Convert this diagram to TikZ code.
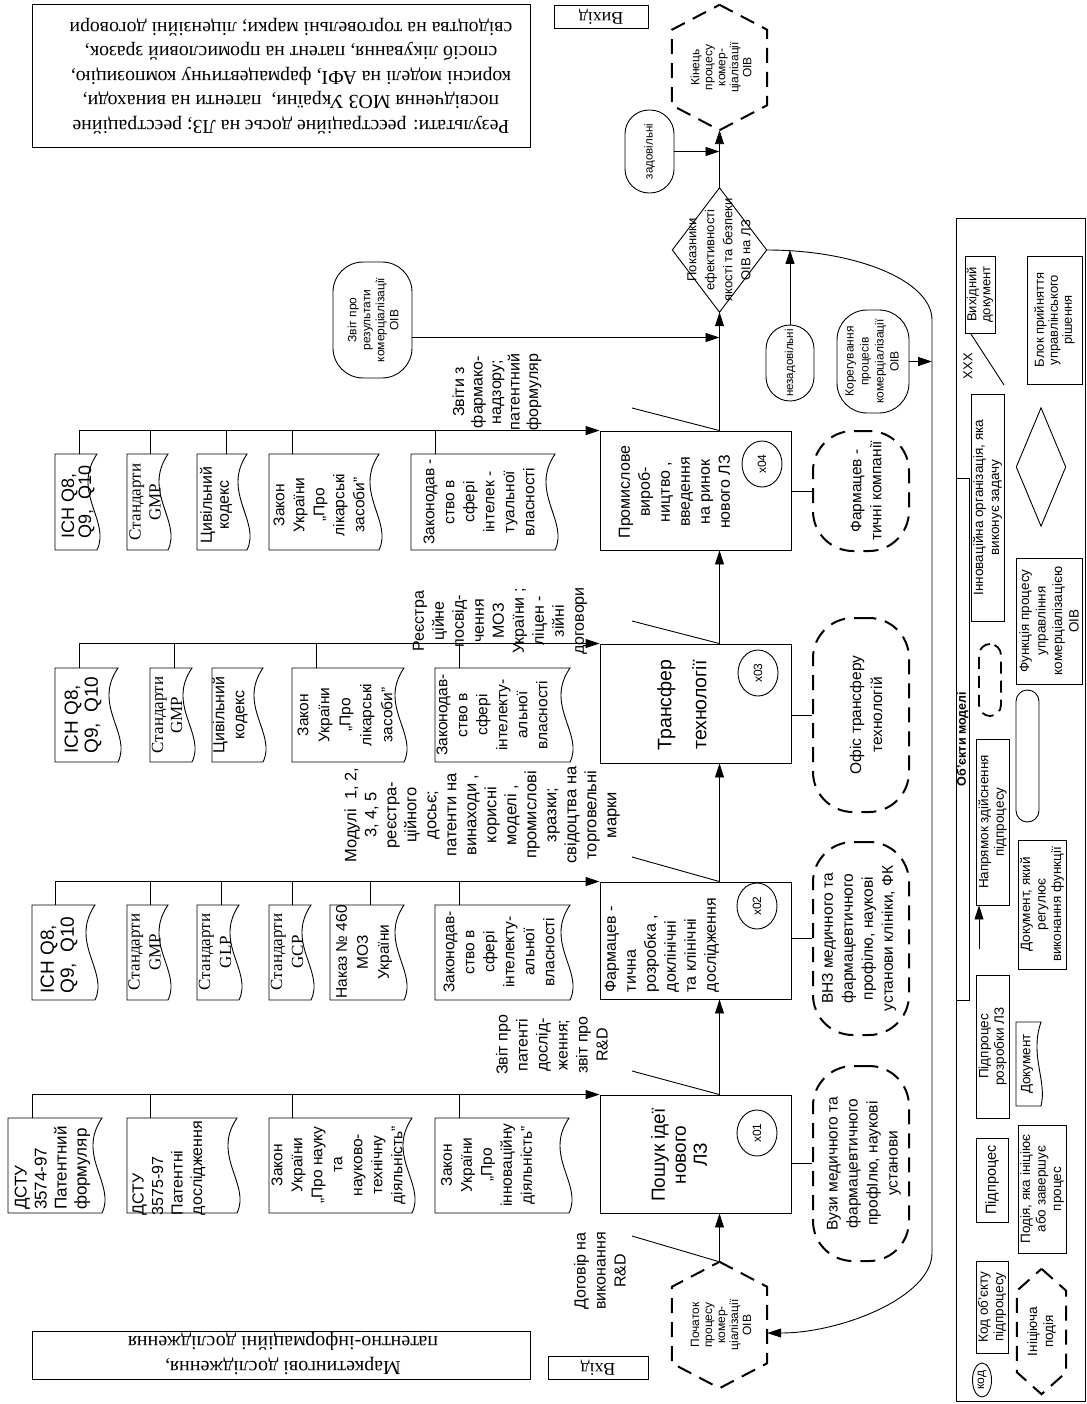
\documentclass[tikz,border=0pt]{standalone}
\usepackage{fontspec}
\setmainfont{Liberation Sans}
\newfontfamily\srf{Liberation Serif}
\usetikzlibrary{arrows.meta,shapes.geometric,calc}
\newcommand\fs[2]{\fontsize{#1}{#2}\selectfont}
% box node from corners: [opts]{x1}{y1}{x2}{y2}{name}
\newcommand\bx[6][]{\node[draw,line width=0.9pt,inner sep=0pt,minimum width={(#4-#2)*1pt},minimum height={(#5-#3)*1pt},#1] (#6) at ({(#2+#4)/2},{(#3+#5)/2}) {};}
% document shape: [amp]{x1}{y1}{x2}{y2}{name}{drop x}
\newcommand\doc[7][1]{%
  \draw[line width=0.9pt] (#2,#3) -- (#4,#3) .. controls ({#4-26*#1},{#3+0.4*(#5-#3)}) and ({#4+14*#1},{#3+0.7*(#5-#3)}) .. (#4,#5) -- (#2,#5) -- cycle;
  \coordinate (#6) at (#7,#3);}
\begin{document}
\begin{tikzpicture}[x=1pt,y=-1pt,
  ln/.style={line width=0.9pt},
  arr/.style={line width=0.9pt,-{Triangle[length=14pt,width=9pt]}},
  dsh/.style={line width=2pt,dash pattern=on 15pt off 9pt},
  rt/.style={rotate=90,align=center,inner sep=0pt},
  rtl/.style={rotate=90,align=left,inner sep=0pt},
  upd/.style={rotate=180,align=center,inner sep=0pt},
  lg/.style={rotate=90,align=center,inner sep=0pt,font=\fs{13.5}{15.5}}]
\fill[white] (0,0) rectangle (1086,1404);
\useasboundingbox (0,0) rectangle (1086,1404);

% ---------- top / bottom boxes ----------
\bx{32}{4}{530}{147}{res}
\node[upd,font=\srf\fs{19.8}{24.5}] (rest) at (291,76) {Результати: реєстраційне досьє на ЛЗ; реєстраційне\\посвідчення МОЗ України,\ \ патенти на винаходи,\\корисні моделі на АФІ, фармацевтичну композицію,\\спосіб лікування, патент на промисловий зразок,\\свідоцтва на торговельні марки; ліцензійні договори};
\bx{554}{5}{648}{28}{vyh}
\node[upd,font=\srf\fs{18}{20}] at (vyh) {Вихід};
\bx{32}{1331}{530}{1379}{mark}
\node[upd,font=\srf\fs{20}{25}] (markt) at (283,1353) {Маркетингові дослідження,\\патентно-інформаційні дослідження};
\bx{548}{1356}{648}{1379}{vh}
\node[upd,font=\srf\fs{18}{20}] at (vh) {Вхід};

% ---------- blocks ----------
\bx{600}{1095}{791}{1213}{b1}
\bx{600}{882}{791}{999}{b2}
\bx{600}{644}{791}{763}{b3}
\bx{600}{431}{791}{550}{b4}
\node[rt,font=\fs{19}{21}] (b1t) at (679,1155) {Пошук ідеї\\нового\\ЛЗ};
\node[rtl,font=\fs{16}{20}] (b2t) at (662,945) {Фармацев -\\тична\\розробка ,\\доклінічні\\та клінічні\\дослідження};
\node[rt,font=\fs{19.5}{35}] (b3t) at (682,705) {Трансфер\\технології};
\node[rt,font=\fs{16}{20}] (b4t) at (674.5,492) {Промислове\\вироб-\\ництво ,\\введення\\на ринок\\нового ЛЗ};
\node[draw,ln,ellipse,rt,minimum width=46pt,minimum height=40pt,font=\fs{12}{14}] (c1) at (757,1133) {x01};
\node[draw,ln,ellipse,rt,minimum width=46pt,minimum height=40pt,font=\fs{12}{14}] (c2) at (757,906) {x02};
\node[draw,ln,ellipse,rt,minimum width=46pt,minimum height=40pt,font=\fs{12}{14}] (c3) at (758,673) {x03};
\node[draw,ln,ellipse,rt,minimum width=46pt,minimum height=40pt,font=\fs{12}{14}] (c4) at (762,464) {x04};

% ---------- events ----------
\node[minimum width=95pt,minimum height=126pt,inner sep=0pt] (start) at (719.5,1325) {};
\draw[dsh] (start.north) -- ([yshift=-25pt]start.north east) -- ([yshift=25pt]start.south east) -- (start.south) -- ([yshift=25pt]start.south west) -- ([yshift=-25pt]start.north west) -- cycle;
\node[rt,font=\fs{12}{13}] (startt) at (721,1325) {Початок\\процесу\\комер-\\ціалізації\\ОІВ};
\node[minimum width=95pt,minimum height=125pt,inner sep=0pt] (end) at (719.5,67.5) {};
\draw[dsh] (end.north) -- ([yshift=-25pt]end.north east) -- ([yshift=25pt]end.south east) -- (end.south) -- ([yshift=25pt]end.south west) -- ([yshift=-25pt]end.north west) -- cycle;
\node[rt,font=\fs{12}{13}] (endt) at (721,67.5) {Кінець\\процесу\\комер-\\ціалізації\\ОІВ};

\node[minimum width=94pt,minimum height=124pt,inner sep=0pt] (dia) at (719.5,250) {};
\draw[ln] (dia.north) -- (dia.east) -- (dia.south) -- (dia.west) -- cycle;
\node[rt,font=\fs{13}{18}] (diat) at (719,250) {Показники\\ефективності\\якості та безпеки\\ОІВ на ЛЗ};

\bx[rounded corners=24pt]{625}{110}{674}{193}{zad}
\node[rt,font=\fs{11.5}{13}] at (zad) {задовільні};
\bx[rounded corners=24pt]{766}{325}{814}{401}{nez}
\node[rt,font=\fs{11.5}{13}] at (nez) {незадовільні};
\bx[rounded corners=30pt]{333}{262}{412}{378}{rep}
\node[rt,font=\fs{12}{14}] at (373,320) {Звіт про\\результати\\комерціалізації\\ОІВ};
\bx[rounded corners=30pt]{837}{310}{909}{413}{kor}
\node[rt,font=\fs{12}{15}] at (872,361.5) {Корегування\\процесів\\комерціалізації\\ОІВ};

% ---------- organisations ----------
\bx[dsh,rounded corners=40pt]{813}{1066}{909}{1261}{o1}
\bx[dsh,rounded corners=40pt]{813}{842}{909}{1035}{o2}
\bx[dsh,rounded corners=40pt]{813}{618}{909}{812}{o3}
\bx[dsh,rounded corners=40pt]{813}{431}{909}{551}{o4}
\node[rt,font=\fs{15.5}{20}] at (864,1163.5) {Вузи медичного та\\фармацевтичного\\профІлю, наукові\\установи};
\node[rt,font=\fs{15.5}{20}] at (859,938.5) {ВНЗ медичного та\\фармацевтичного\\профілю, наукові\\установи клініки, ФК};
\node[rt,font=\fs{15.5}{21}] at (866,715) {Офіс трансферу\\технологій};
\node[rt,font=\fs{15.5}{20}] at (866,491) {Фармацев -\\тичні компанії};
\draw[ln] (o1.west) -- (o1.west -| b1.east);
\draw[ln] (o2.west) -- (o2.west -| b2.east);
\draw[ln] (o3.west) -- (o3.west -| b3.east);
\draw[ln] (o4.west) -- (o4.west -| b4.east);

% ---------- main flow ----------
\draw[arr] (start.north) -- (start.north |- b1.south);
\draw[arr] (start.north |- b1.north) -- (start.north |- b2.south);
\draw[arr] (start.north |- b2.north) -- (start.north |- b3.south);
\draw[arr] (start.north |- b3.north) -- (start.north |- b4.south);
\draw[arr] (start.north |- b4.north) -- (dia.south);
\draw[arr] (dia.north) -- (end.south);
\draw[arr] (zad.east) -- (zad.east -| dia.north);
\draw[arr] ([yshift=-17.5pt]rep.east) -- ([yshift=-17.5pt]rep.east -| dia.south);
\coordinate (lp1) at (932,320);
\coordinate (lp2) at (932,1253);
\draw[arr] (dia.east) .. controls (857,250) and (932,281) .. (lp1) -- (lp2) .. controls (932,1297) and (841,1333) .. ([yshift=-8pt]start.east);
\draw[arr] (nez.north) -- (nez.north |- dia.east);
\draw[arr] (kor.east) -- (kor.east -| lp1);

% ---------- output labels ----------
\coordinate (l0e) at (632,1236);
\coordinate (l1e) at (632,1071);
\coordinate (l2e) at (632,857);
\coordinate (l3e) at (632,621);
\coordinate (l4e) at (632,408);
\draw[ln] (start.north) -- (l0e);
\draw[ln] (start.north |- b1.north) -- (l1e);
\draw[ln] (start.north |- b2.north) -- (l2e);
\draw[ln] (start.north |- b3.north) -- (l3e);
\draw[ln] (start.north |- b4.north) -- (l4e);
\node[rt,font=\fs{16}{20}] (l0) at (600,1271) {Договір на\\виконання\\R\&D};
\node[rt,font=\fs{16}{20}] (l1) at (552,1045) {Звіт про\\патенті\\дослід-\\ження;\\звіт про\\R\&D};
\node[rt,font=\fs{16.5}{20}] (l2) at (482,815) {Модулі\ \ 1, 2,\\3, 4, 5\\реєстра-\\ційного\\досьє;\\патенти на\\винаходи ,\\корисні\\моделі ,\\промислові\\зразки;\\свідоцтва на\\торговельні\\марки};
\node[rt,font=\fs{16}{20}] (l3) at (500,621) {Реєстра\\ційне\\посвід-\\чення\\МОЗ\\України ;\\ліцен -\\зійні\\договори};
\node[rt,font=\fs{16}{18.5}] (l4) at (497,392) {Звіти з\\фармако-\\надзору;\\патентний\\формуляр};

% ---------- documents group 1 ----------
\doc{8}{1118}{102}{1213}{d1a}{32}
\doc{127}{1118}{237}{1213}{d1b}{150}
\doc{269}{1118}{412}{1213}{d1c}{292}
\doc{435}{1118}{569}{1213}{d1d}{459}
\node[rtl,font=\fs{17}{20}] at (52.5,1168) {ДСТУ\\3574-97\\Патентний\\формуляр};
\node[rtl,font=\fs{16}{19.5}] at (169,1168) {ДСТУ\\3575-97\\Патентні\\дослідження};
\node[rt,font=\fs{15.5}{20}] at (338.5,1165) {Закон\\України\\„Про науку\\та\\науково-\\технічну\\діяльність”};
\node[rt,font=\fs{15.5}{20}] at (488,1165) {Закон\\України\\„Про\\інноваційну\\діяльність”};
\draw[arr] (d1a |- b1.north west) -- (b1.north west);
\foreach \d in {d1a,d1b,d1c,d1d} \draw[ln] (\d) -- (\d |- b1.north west);

% ---------- documents group 2 ----------
\doc{32}{905}{95}{1000}{d2a}{55}
\doc{127}{905}{168}{1000}{d2b}{150}
\doc{197}{905}{239}{1000}{d2c}{221}
\doc{269}{905}{311}{1000}{d2d}{292}
\doc{330}{905}{404}{1000}{d2e}{370}
\doc{435}{905}{570}{1000}{d2f}{459}
\node[rtl,font=\fs{19}{20}] at (59,955) {ICH Q8,\\Q9,\ \ Q10};
\node[rt,font=\srf\fs{17}{21}] at (144.5,952) {Стандарти\\GMP};
\node[rt,font=\srf\fs{17}{21}] at (215,952) {Стандарти\\GLP};
\node[rt,font=\srf\fs{17}{21}] at (287,952) {Стандарти\\GCP};
\node[rt,font=\fs{15.5}{21}] at (364,952) {Наказ № 460\\МОЗ\\України};
\node[rt,font=\fs{15.5}{20}] at (499,952) {Законодав-\\ство в\\сфері\\інтелекту-\\альної\\власності};
\draw[arr] (d2a |- b2.north west) -- (b2.north west);
\foreach \d in {d2a,d2b,d2c,d2d,d2e,d2f} \draw[ln] (\d) -- (\d |- b2.north west);

% ---------- documents group 3 ----------
\doc{55}{668}{118}{762}{d3a}{79}
\doc{150}{668}{192}{762}{d3b}{174}
\doc{212}{668}{263}{762}{d3c}{236}
\doc{292}{668}{404}{762}{d3d}{316}
\doc{435}{668}{570}{762}{d3e}{459}
\node[rtl,font=\fs{19}{20}] at (83,715) {ICH Q8,\\Q9,\ \ Q10};
\node[rt,font=\srf\fs{17}{19}] at (167,715) {Стандарти\\GMP};
\node[rt,font=\fs{16}{20}] at (230,715) {Цивільний\\кодекс};
\node[rt,font=\fs{15.5}{21}] at (345,715) {Закон\\України\\„Про\\лікарські\\засоби”};
\node[rt,font=\fs{15.5}{20}] at (492,715) {Законодав-\\ство в\\сфері\\інтелекту-\\альної\\власності};
\draw[arr] (d3a |- b3.north west) -- (b3.north west);
\foreach \d in {d3a,d3b,d3d,d3e} \draw[ln] (\d) -- (\d |- b3.north west);

% ---------- documents group 4 ----------
\doc{55}{454}{97}{550}{d4a}{79}
\doc{127}{454}{168}{550}{d4b}{150}
\doc{197}{454}{247}{550}{d4c}{226}
\doc{269}{454}{379}{550}{d4d}{292}
\doc{411}{454}{555}{550}{d4e}{435}
\node[rtl,font=\fs{18}{14}] at (78,502) {ICH Q8,\\Q9,\ \ Q10};
\node[rt,font=\srf\fs{17}{20}] at (145,502) {Стандарти\\GMP};
\node[rt,font=\fs{16}{17}] at (216,505) {Цивільний\\кодекс};
\node[rt,font=\fs{15.5}{20}] at (319,505) {Закон\\України\\„Про\\лікарські\\засоби”};
\node[rt,font=\fs{15.5}{20}] at (479,502) {Законодав -\\ство в\\сфері\\інтелек -\\туальної\\власності};
\draw[arr] (d4a |- b4.north west) -- (b4.north west);
\foreach \d in {d4a,d4b,d4c,d4d,d4e} \draw[ln] (\d) -- (\d |- b4.north west);

% ---------- legend ----------
\bx{956}{218}{1085}{1401}{leg}
\bx{956}{478}{969}{1000}{legt}
\node[rt,font=\bfseries\fs{12.5}{14}] at (legt) {Об’єкти моделі};
\bx{965}{256}{995}{333}{lvd}
\node[lg,font=\fs{13}{14}] at (lvd) {Вихідний\\документ};
\coordinate (lxx) at (1004,385);
\draw[ln] ([xshift=6pt]lvd.south west) -- (lxx);
\node[rt,font=\fs{13}{14}] (xxx) at (968,366) {XXX};
\bx{1027}{256}{1082}{384}{lbp}
\node[lg,font=\fs{13}{14}] at (lbp) {Блок прийняття\\управлінського\\рішення};
\bx{971}{394}{1004}{621}{lio}
\node[lg,font=\fs{13.5}{16}] at (lio) {Інноваційна організація, яка\\виконує задачу};
\node[minimum width=49pt,minimum height=118pt,inner sep=0pt] (ldia) at (1041,467) {};
\draw[ln] (ldia.north) -- (ldia.east) -- (ldia.south) -- (ldia.west) -- cycle;
\bx{1016}{558}{1082}{684}{lfn}
\node[lg,font=\fs{13.5}{16.5}] at (lfn) {Функція процесу\\управління\\комерціалізацією\\ОІВ};
\bx[dsh,line width=1.8pt,dash pattern=on 12pt off 7pt,rounded corners=11pt]{979}{644}{1001}{716}{lorg}
\bx[rounded corners=11.5pt]{1016}{690}{1039}{822}{lev}
\bx{976}{739}{1009}{905}{lnap}
\node[lg] at (lnap) {Напрямок здійснення\\підпроцесу};
\coordinate (larr) at (979,949);
\draw[arr] (larr) -- (larr |- lnap.south);
\bx{1018}{840}{1066}{969}{ldoc}
\node[lg] at (ldoc) {Документ, який\\регулює\\виконання функції};
\bx{976}{975}{1009}{1118}{lsub}
\node[lg] at (lsub) {Підпроцес\\розробки ЛЗ};
\doc[0.45]{1016}{1022}{1041}{1106}{ldd}{1028}
\node[lg] at (1027,1064) {Документ};
\bx{976}{1138}{1008}{1222}{lsp}
\node[lg,font=\fs{14.5}{16}] at (lsp) {Підпроцес};
\bx{1018}{1125}{1066}{1253}{lev2}
\node[lg] at (lev2) {Подія, яка ініціює\\або завершує\\процес};
\bx{976}{1261}{1008}{1353}{lkod}
\node[lg] at (lkod) {Код об’єкту\\підпроцесу};
\node[draw,ln,ellipse,rt,minimum width=34pt,minimum height=19pt,font=\fs{12}{13}] (lk) at (982,1380) {код};
\node[minimum width=49pt,minimum height=125pt,inner sep=0pt] (lhex) at (1041.5,1331.5) {};
\draw[dsh] (lhex.north) -- ([yshift=-22pt]lhex.north east) -- ([yshift=22pt]lhex.south east) -- (lhex.south) -- ([yshift=22pt]lhex.south west) -- ([yshift=-22pt]lhex.north west) -- cycle;
\node[lg,font=\fs{13.5}{16}] at (lhex) {Ініціюча\\подія};
\end{tikzpicture}
\end{document}
